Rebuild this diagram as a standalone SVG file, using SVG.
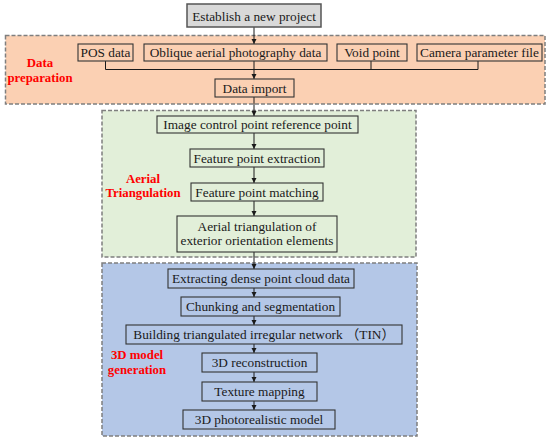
<svg xmlns="http://www.w3.org/2000/svg" width="550" height="441" viewBox="0 0 550 441">
<defs>
<marker id="ah" markerUnits="userSpaceOnUse" markerWidth="6" markerHeight="6" refX="5" refY="2.5" orient="auto">
<path d="M0,0 L5,2.5 L0,5 z" fill="#1a1a1a"/>
</marker>
<style>
.region{stroke:#7f7f7f;stroke-width:1.5;stroke-dasharray:4 2}
.box{fill:none;stroke:#333;stroke-width:1.1}
.t{font-family:"Liberation Serif","Noto Sans CJK SC",serif;font-size:13.3px;fill:#1a1a1a;text-anchor:middle}
.lab{font-family:"Liberation Serif",serif;font-size:12.8px;font-weight:bold;fill:#ff0000;text-anchor:middle}
.c{stroke:#1a1a1a;stroke-width:1;fill:none}
</style>
</defs>
<rect width="550" height="441" fill="#ffffff"/>
<g id="region-data-preparation">
<rect class="region" x="5.5" y="35.5" width="539.5" height="68.5" fill="#fbd0b3"/>
<text class="lab" x="40" y="67">Data</text>
<text class="lab" x="40" y="81.5">preparation</text>
</g>
<g id="region-aerial-triangulation">
<rect class="region" x="102" y="110.5" width="314" height="146.5" fill="#e2efd9"/>
<text class="lab" x="143" y="183">Aerial</text>
<text class="lab" x="143" y="197">Triangulation</text>
</g>
<g id="region-3d-model-generation">
<rect class="region" x="102" y="263" width="315" height="173" fill="#b4c7e7"/>
<text class="lab" x="137" y="359">3D model</text>
<text class="lab" x="137" y="373.5">generation</text>
</g>
<g id="connectors">
<line class="c" x1="254" y1="27" x2="254" y2="44" marker-end="url(#ah)"/>
<polyline class="c" points="105.5,61 105.5,69.5 478,69.5 478,61"/>
<line class="c" x1="254" y1="61" x2="254" y2="69.5"/>
<line class="c" x1="371" y1="61" x2="371" y2="69.5"/>
<line class="c" x1="254" y1="69.5" x2="254" y2="79" marker-end="url(#ah)"/>
<line class="c" x1="254" y1="97" x2="254" y2="116" marker-end="url(#ah)"/>
<line class="c" x1="254" y1="133" x2="254" y2="149" marker-end="url(#ah)"/>
<line class="c" x1="254" y1="167" x2="254" y2="183" marker-end="url(#ah)"/>
<line class="c" x1="254" y1="201" x2="254" y2="216" marker-end="url(#ah)"/>
<line class="c" x1="254" y1="252" x2="254" y2="269" marker-end="url(#ah)"/>
<line class="c" x1="254" y1="288" x2="254" y2="297" marker-end="url(#ah)"/>
<line class="c" x1="254" y1="316" x2="254" y2="325" marker-end="url(#ah)"/>
<line class="c" x1="254" y1="344" x2="254" y2="353" marker-end="url(#ah)"/>
<line class="c" x1="254" y1="372" x2="254" y2="382" marker-end="url(#ah)"/>
<line class="c" x1="254" y1="401" x2="254" y2="410" marker-end="url(#ah)"/>
</g>
<g id="node-establish">
<rect x="187" y="4" width="134" height="23" fill="#d9d9d9" stroke="#555" stroke-width="1.5"/>
<text class="t" x="254" y="20.5">Establish a new project</text>
</g>
<g id="node-pos">
<rect class="box" x="78" y="44" width="55" height="17"/>
<text class="t" x="105.5" y="57">POS data</text>
</g>
<g id="node-oblique">
<rect class="box" x="144" y="44" width="183" height="17"/>
<text class="t" x="235.5" y="57">Oblique aerial photography data</text>
</g>
<g id="node-void">
<rect class="box" x="337" y="44" width="70" height="17"/>
<text class="t" x="372" y="57">Void point</text>
</g>
<g id="node-camera">
<rect class="box" x="417" y="44" width="125" height="17"/>
<text class="t" x="479.5" y="57">Camera parameter file</text>
</g>
<g id="node-data-import">
<rect class="box" x="215" y="79" width="79" height="18"/>
<text class="t" x="254.5" y="92.5">Data import</text>
</g>
<g id="node-image-control">
<rect class="box" x="157" y="116" width="201" height="17"/>
<text class="t" x="257.5" y="129">Image control point reference point</text>
</g>
<g id="node-feature-extraction">
<rect class="box" x="190" y="149" width="134" height="18"/>
<text class="t" x="257" y="162.5">Feature point extraction</text>
</g>
<g id="node-feature-matching">
<rect class="box" x="191" y="183" width="132" height="18"/>
<text class="t" x="257" y="196.5">Feature point matching</text>
</g>
<g id="node-aerial-triangulation">
<rect class="box" x="177" y="216" width="160" height="36"/>
<text class="t" x="257" y="230.5">Aerial triangulation of</text>
<text class="t" x="257" y="245">exterior orientation elements</text>
</g>
<g id="node-extracting">
<rect class="box" x="168" y="269" width="186" height="19"/>
<text class="t" x="261" y="283">Extracting dense point cloud data</text>
</g>
<g id="node-chunking">
<rect class="box" x="181" y="297" width="159" height="19"/>
<text class="t" x="260.5" y="311">Chunking and segmentation</text>
</g>
<g id="node-tin">
<rect class="box" x="126" y="325" width="276" height="19"/>
<text class="t" x="264" y="339">Building triangulated irregular network （TIN）</text>
</g>
<g id="node-reconstruction">
<rect class="box" x="202" y="353" width="115" height="19"/>
<text class="t" x="259.5" y="367">3D reconstruction</text>
</g>
<g id="node-texture">
<rect class="box" x="202" y="382" width="115" height="19"/>
<text class="t" x="259.5" y="396">Texture mapping</text>
</g>
<g id="node-photorealistic">
<rect class="box" x="183" y="410" width="152" height="19"/>
<text class="t" x="259" y="424">3D photorealistic model</text>
</g>
</svg>
